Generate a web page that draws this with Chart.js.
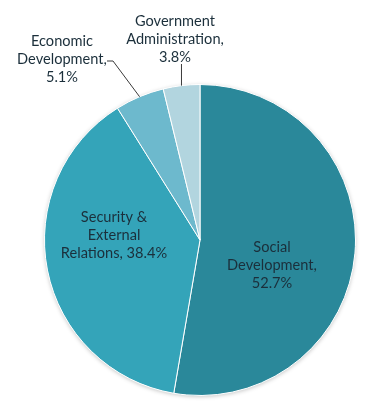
<!DOCTYPE html>
<html><head><meta charset="utf-8">
<script src="https://cdn.jsdelivr.net/npm/chart.js@4/dist/chart.umd.min.js"></script>
<style>html,body{margin:0;padding:0;background:#fff}canvas{display:block}</style>
</head><body>
<canvas id="c" width="376" height="414"></canvas>
<script>
const categories = ["Social Development", "Security & External Relations", "Economic Development", "Government Administration"];
const values = [52.7, 38.4, 5.1, 3.8];
const colors = ["#2A889A", "#34A4B9", "#6DB9CD", "#B2D5DF"];
const labelLines = [
  ["Social", "Development,", "52.7%"],
  ["Security &", "External", "Relations, 38.4%"],
  ["Economic", "Development,", "5.1%"],
  ["Government", "Administration,", "3.8%"]
];
const FONT = "14.6px Lato";
const TEXT = "#1B2F3B";

const labelPlugin = {
  id: 'labels',
  beforeDatasetsDraw(chart) {
    const ctx = chart.ctx;
    const arc = chart.getDatasetMeta(0).data[0];
    ctx.save();
    ctx.shadowColor = 'rgba(0,0,0,0.25)';
    ctx.shadowBlur = 4;
    ctx.shadowOffsetY = 1;
    ctx.beginPath();
    ctx.arc(arc.x, arc.y, arc.outerRadius, 0, Math.PI * 2);
    ctx.fillStyle = '#fff';
    ctx.fill();
    ctx.restore();
  },
  afterDatasetsDraw(chart) {
    const ctx = chart.ctx;
    const meta = chart.getDatasetMeta(0);
    const cx = meta.data[0].x, cy = meta.data[0].y, r = meta.data[0].outerRadius;
    ctx.save();
    ctx.font = FONT;
    ctx.fillStyle = TEXT;
    ctx.textAlign = 'center';
    ctx.textBaseline = 'middle';
    const lh = 18;
    // label block centres
    const place = [
      {x: cx + 72, y: cy + 25},
      {x: cx - 86, y: cy - 5},
      {x: 62, y: 59},
      {x: 175, y: 39}
    ];
    meta.data.forEach((a, i) => {
      const p = place[i];
      const lines = labelLines[i];
      const y0 = p.y - lh * (lines.length - 1) / 2;
      lines.forEach((t, k) => ctx.fillText(t, p.x, y0 + k * lh));
    });
    ctx.strokeStyle = '#3a3a3a';
    ctx.lineWidth = 1;
    const eco = meta.data[2], gov = meta.data[3];
    const em = (eco.startAngle + eco.endAngle) / 2;
    const ex = cx + Math.cos(em) * r, ey = cy + Math.sin(em) * r;
    ctx.beginPath();
    ctx.moveTo(107, 61); ctx.lineTo(113, 61); ctx.lineTo(ex, ey);
    ctx.stroke();
    const gm = (gov.startAngle + gov.endAngle) / 2;
    const gx = cx + Math.cos(gm) * r, gy = cy + Math.sin(gm) * r;
    ctx.beginPath();
    ctx.moveTo(gx, 64); ctx.lineTo(gx, gy);
    ctx.stroke();
    ctx.restore();
  }
};

new Chart(document.getElementById('c'), {
  type: 'pie',
  data: {
    labels: categories,
    datasets: [{ data: values, backgroundColor: colors, borderColor: '#ffffff', borderWidth: 1 }]
  },
  options: {
    responsive: false,
    animation: false,
    layout: { padding: { left: 43, right: 19, top: 84, bottom: 18 } },
    plugins: { legend: { display: false }, tooltip: { enabled: false } }
  },
  plugins: [labelPlugin]
});
</script>
</body></html>
